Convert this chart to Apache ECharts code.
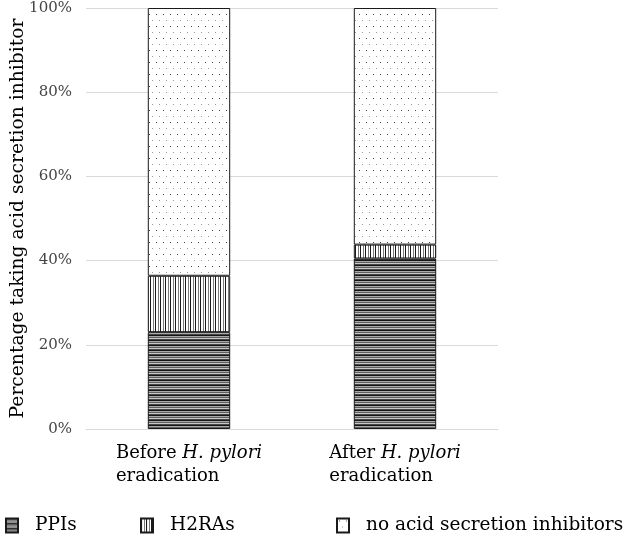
<!DOCTYPE html>
<html><head><meta charset="utf-8">
<script src="https://cdn.jsdelivr.net/npm/echarts@6/dist/echarts.min.js"></script>
<style>html,body{margin:0;padding:0;background:#fff}#c{width:627px;height:539px}</style>
</head><body><div id="c"></div>
<script>
var categories = ['Before', 'After'];
var ppis = [23.0, 40.5];
var h2ras = [13.4, 3.3];
var noInhibitors = [63.6, 56.2];
var yTicks = [0, 20, 40, 60, 80, 100];
var seriesNames = ['PPIs', 'H2RAs', 'no acid secretion inhibitors'];

function makePattern(w, h, draw) {
  var c = document.createElement('canvas');
  c.width = w; c.height = h;
  var ctx = c.getContext('2d');
  ctx.fillStyle = '#fff'; ctx.fillRect(0, 0, w, h);
  draw(ctx);
  return { image: c, repeat: 'repeat' };
}
var hStripe = makePattern(4, 5, function (ctx) {
  var cols = ['#141414', '#a8a8a8', '#5e5e5e', '#c8c8c8', '#474747'];
  for (var i = 0; i < 5; i++) { ctx.fillStyle = cols[i]; ctx.fillRect(0, i, 4, 1); }
});
var vStripe = makePattern(5, 4, function (ctx) {
  ctx.fillStyle = '#1a1a1a'; ctx.fillRect(0, 0, 1, 4);
  ctx.fillStyle = '#7a7a7a'; ctx.fillRect(3, 0, 1, 4);
});
var dots = makePattern(14, 12, function (ctx) {
  ctx.fillStyle = '#444'; ctx.fillRect(2, 2, 1, 1); ctx.fillRect(9, 2, 1, 1);
  ctx.fillStyle = '#999'; ctx.fillRect(5, 8, 1, 1); ctx.fillRect(12, 8, 1, 1);
});

var font = 'DejaVu Serif';
var chart = echarts.init(document.getElementById('c'), null, { renderer: 'canvas' });
var fills = [hStripe, vStripe, dots];
var datas = [ppis, h2ras, noInhibitors];
var series = seriesNames.map(function (n, i) {
  return {
    name: n, type: 'bar', stack: 'all', barWidth: '40%',
    data: datas[i],
    itemStyle: { color: fills[i], borderColor: '#1a1a1a', borderWidth: 1 },
    emphasis: { disabled: true }
  };
});
var legendLefts = [5, 140, 336];
var legends = seriesNames.map(function (n, i) {
  return {
    data: [n], left: legendLefts[i], top: 516, padding: 0, icon: 'rect',
    itemWidth: 12, itemHeight: 14, itemGap: 0, selectedMode: false,
    textStyle: { fontFamily: font, fontSize: 18.5, color: '#000', padding: [0, 0, 0, 12] }
  };
});

chart.setOption({
  animation: false,
  textStyle: { fontFamily: font },
  grid: { left: 86, right: 129, top: 8, bottom: 110, outerBoundsMode: 'none', containLabel: false },
  legend: legends,
  xAxis: {
    type: 'category', data: categories,
    axisLine: { show: true, lineStyle: { color: '#d9d9d9' } },
    axisTick: { show: false },
    axisLabel: {
      margin: 13, interval: 0,
      formatter: function (v) {
        return '{n|' + v + ' }{i|H. pylori}\n{n|eradication}';
      },
      rich: {
        n: { fontFamily: font, fontSize: 18, color: '#000', align: 'left', lineHeight: 23 },
        i: { fontFamily: font, fontSize: 18, color: '#000', fontStyle: 'italic', align: 'left', lineHeight: 23 }
      }
    }
  },
  yAxis: {
    type: 'value', min: yTicks[0], max: yTicks[yTicks.length - 1], interval: 20,
    name: 'Percentage taking acid secretion inhibitor',
    nameLocation: 'middle', nameGap: 58, nameMoveOverlap: false,
    nameTextStyle: { fontFamily: font, fontSize: 18.7, color: '#000' },
    axisLine: { show: false }, axisTick: { show: false },
    axisLabel: { margin: 14, fontFamily: font, fontSize: 15, color: '#444', formatter: '{value}%' },
    splitLine: { lineStyle: { color: '#d9d9d9' } }
  },
  series: series
});
</script></body></html>
